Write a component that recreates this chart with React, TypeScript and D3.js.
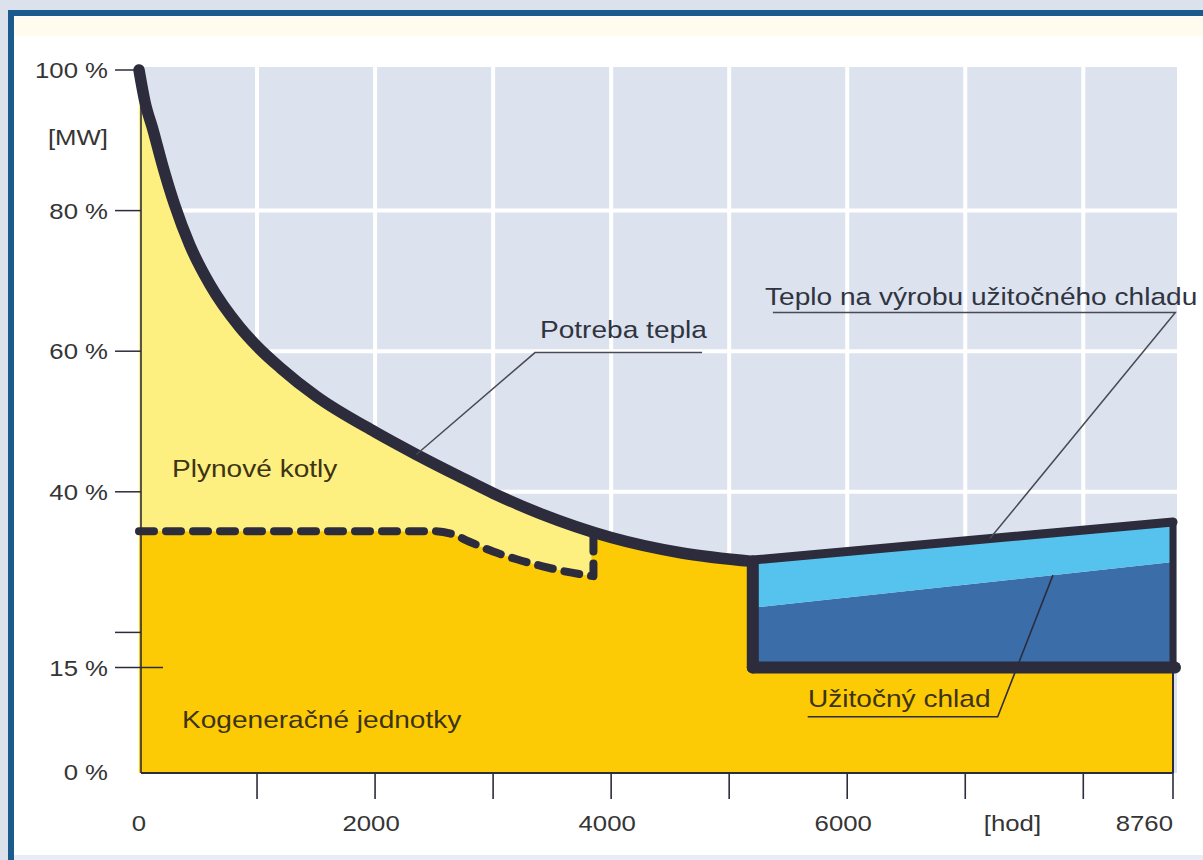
import React from 'react';
import * as d3 from 'd3';

const W = 1203;
const H = 860;
const FONT = '"Liberation Sans", Arial, Helvetica, sans-serif';
const SX = 1.17;

// Heat demand duration curve (hours, % of peak)
const demandHours = [0, 50, 120, 200, 300, 430, 600, 850, 1000, 1200, 1500, 2000, 2350, 2700, 3000, 3400, 4000, 4600, 5200];
const demandPct = [100, 95.5, 91.4, 86.4, 80.9, 75.1, 69.5, 63.5, 60.7, 57.6, 53.6, 48.5, 45.3, 42.3, 39.8, 36.9, 33.5, 31.3, 30.1];

// CHP (cogeneration) output – dashed line
const chpHours = [0, 2500, 2650, 2800, 3000, 3200, 3420, 3630, 3850];
const chpPct = [34.4, 34.4, 34.0, 32.9, 31.5, 30.4, 29.4, 28.6, 28.0];
const chpStepTop = 34.0;

// Cooling period
const coolHours = [5200, 8760];
const coolTotalPct = [30.3, 35.7];
const coolUsefulPct = [23.5, 30.0];
const coolBasePct = 15;

// Axes
const yTickValues = [100, 80, 60, 40, 20, 15];
const yTickLabels = ['100 %', '80 %', '60 %', '40 %', '', '15 %'];
const yZeroLabel = '0 %';
const yUnit = '[MW]';
const xTickValues = [1000, 2000, 3000, 4000, 5000, 6000, 7000, 8000, 8760];
const xLabelValues = [0, 2000, 4000, 6000];
const xLabelTexts = ['0', '2000', '4000', '6000'];
const xEndLabel = '8760';
const xUnit = '[hod]';
const gridPct = [80, 60, 40];
const gridHours = [1000, 2000, 3000, 4000, 5000, 6000, 7000, 8000];

const C = {
  bg: '#dbe2ec',
  frame: '#1a5a8c',
  plot: '#dde2ef',
  light: '#fef080',
  gold: '#fdcb05',
  ltBlue: '#56c2ee',
  dkBlue: '#3b6ea9',
  line: '#2c2c3c',
  text: '#353535',
  textIn: '#3d3415',
  leader: '#4a4a55',
};

type P = [number, number];

function Label(props: { x: number; y: number; text: string; size: number; anchor?: string; fill?: string }) {
  const { x, y, text, size, anchor = 'start', fill = C.text } = props;
  return (
    <g transform={`translate(${x},${y}) scale(${SX},1)`}>
      <text x={0} y={0} fontSize={size} textAnchor={anchor as any} fill={fill} fontFamily={FONT}>
        {text}
      </text>
    </g>
  );
}

export default function App() {
  const x = d3.scaleLinear().domain([0, 8760]).range([139, 1173]);
  const y = d3.scaleLinear().domain([0, 100]).range([773, 70]);

  const demand: P[] = demandHours.map((h, i) => [h, demandPct[i]]);
  const chp: P[] = chpHours.map((h, i) => [h, chpPct[i]]);

  const curve = d3.curveMonotoneX;
  const area = d3
    .area<P>()
    .x((d) => x(d[0]))
    .y0(y(0))
    .y1((d) => y(d[1]))
    .curve(curve);
  const line = d3
    .line<P>()
    .x((d) => x(d[0]))
    .y((d) => y(d[1]))
    .curve(curve);
  const lin = d3
    .line<P>()
    .x((d) => x(d[0]))
    .y((d) => y(d[1]));

  const chpPath = (line(chp) || '') + `L${x(3850)},${y(chpStepTop)}`;

  const darkPoly: P[] = [
    [coolHours[0], coolBasePct],
    [coolHours[0], coolUsefulPct[0]],
    [coolHours[1], coolUsefulPct[1]],
    [coolHours[1], coolBasePct],
  ];
  const lightPoly: P[] = [
    [coolHours[0], coolUsefulPct[0]],
    [coolHours[0], coolTotalPct[0]],
    [coolHours[1], coolTotalPct[1]],
    [coolHours[1], coolUsefulPct[1]],
  ];

  const x0 = x(0);
  const xEnd = x(8760);
  const y0 = y(0);

  // annotation anchors (data coords)
  const potrebaHit: P = [2350, 45.3];
  const potrebaUL: P[] = [[3355, 59.8], [4770, 59.8]];
  const teploHit: P = [7209, 30.3 + ((35.7 - 30.3) * (7209 - 5200)) / 3560];
  const teploUL: P[] = [[5370, 65.5], [8780, 65.5]];
  const chladHit: P = [7743, 23.5 + ((30 - 23.5) * (7743 - 5200)) / 3560];
  const chladUL: P[] = [[5665, 8.0], [7275, 8.0]];

  return (
    <svg
      width={W}
      height={H}
      style={{ position: 'absolute', left: 0, top: 0, display: 'block' }}
      xmlns="http://www.w3.org/2000/svg"
    >
      <defs>
        <clipPath id="afterChp">
          <rect x={x(3850) - 2} y={0} width={W} height={H} />
        </clipPath>
      </defs>
      {/* frame */}
      <rect x={0} y={0} width={W} height={H} fill={C.bg} />
      <rect x={8} y={10} width={W} height={H} fill={C.frame} />
      <rect x={14} y={16} width={W} height={839} fill="#ffffff" />
      <rect x={14} y={17} width={W} height={19} fill="#fffbee" />
      <rect x={14} y={855} width={W} height={5} fill="#e6edf4" />

      {/* plot background + grid */}
      <rect x={x0 + 3} y={y(100) - 3} width={xEnd + 4 - x0 - 3} height={y0 - y(100) + 3} fill={C.plot} />
      {gridHours.map((h) => (
        <line key={'gv' + h} x1={x(h)} x2={x(h)} y1={y(100) - 3} y2={y0} stroke="#ffffff" strokeWidth={4} />
      ))}
      {gridPct.map((p) => (
        <line key={'gh' + p} x1={x0} x2={xEnd + 4} y1={y(p)} y2={y(p)} stroke="#ffffff" strokeWidth={4} />
      ))}

      {/* fills */}
      <path d={area(demand) || ''} fill={C.light} />
      <path d={area(chp) || ''} fill={C.gold} />
      <path d={area(demand) || ''} fill={C.gold} clipPath="url(#afterChp)" />
      <rect x={x(5200) - 3} y={y(coolBasePct)} width={xEnd - x(5200) + 3} height={y0 - y(coolBasePct)} fill={C.gold} />
      <path d={(lin(darkPoly) || '') + 'Z'} fill={C.dkBlue} />
      <path d={(lin(lightPoly) || '') + 'Z'} fill={C.ltBlue} />

      {/* axes */}
      <line x1={x0 + 2} x2={x0 + 2} y1={y(97)} y2={y0} stroke={C.line} strokeWidth={1.6} />
      <line x1={x0 + 2} x2={xEnd} y1={y0} y2={y0} stroke={C.line} strokeWidth={2} />
      <line x1={xEnd} x2={xEnd} y1={y(coolBasePct)} y2={y0} stroke={C.line} strokeWidth={2} />
      {yTickValues.map((v) => (
        <line
          key={'yt' + v}
          x1={115}
          x2={v === 15 ? x0 + 24 : x0 + 2}
          y1={y(v)}
          y2={y(v)}
          stroke={C.line}
          strokeWidth={1.5}
        />
      ))}
      {xTickValues.map((v) => (
        <line key={'xt' + v} x1={x(v)} x2={x(v)} y1={y0} y2={y0 + 26} stroke={C.line} strokeWidth={1.6} />
      ))}

      {/* dashed CHP line */}
      <path
        d={chpPath}
        fill="none"
        stroke={C.line}
        strokeWidth={8}
        strokeDasharray="15 12"
        strokeLinecap="round"
        strokeLinejoin="round"
      />

      {/* cooling outline */}
      <path d={lin([[coolHours[0], coolTotalPct[0]], [coolHours[1], coolTotalPct[1]]]) || ''} stroke={C.line} strokeWidth={9} strokeLinecap="round" fill="none" />
      <line x1={xEnd} x2={xEnd} y1={y(coolTotalPct[1])} y2={y(coolBasePct)} stroke={C.line} strokeWidth={7} />
      <line x1={x(5200)} x2={xEnd + 2} y1={y(coolBasePct)} y2={y(coolBasePct)} stroke={C.line} strokeWidth={12} strokeLinecap="round" />
      <line x1={x(5200)} x2={x(5200)} y1={y(demandPct[demandPct.length - 1])} y2={y(coolBasePct)} stroke={C.line} strokeWidth={12} strokeLinecap="round" />

      {/* demand curve */}
      <path d={line(demand) || ''} fill="none" stroke={C.line} strokeWidth={11.5} strokeLinecap="round" strokeLinejoin="round" />

      {/* annotations */}
      <path d={lin([potrebaHit, ...potrebaUL]) || ''} fill="none" stroke={C.leader} strokeWidth={1.5} />
      <path d={lin([teploUL[0], teploUL[1], teploHit]) || ''} fill="none" stroke={C.leader} strokeWidth={1.5} />
      <path d={lin([chladUL[0], chladUL[1], chladHit]) || ''} fill="none" stroke={C.line} strokeWidth={1.6} />

      <Label x={x(3397)} y={338} text="Potreba tepla" size={24} fill="#2f3440" />
      <Label x={765} y={305} text="Teplo na výrobu užitočného chladu" size={24} fill="#2f3440" />
      <Label x={808} y={707} text="Užitočný chlad" size={24} fill={C.textIn} />
      <Label x={172} y={477} text="Plynové kotly" size={24} fill={C.textIn} />
      <Label x={182} y={728} text="Kogeneračné jednotky" size={24} fill={C.textIn} />

      {/* y labels */}
      {yTickValues.map((v, i) =>
        yTickLabels[i] ? (
          <Label key={'yl' + v} x={108} y={y(v) + 8} text={yTickLabels[i]} size={22} anchor="end" />
        ) : null
      )}
      <Label x={108} y={y(0) + 7} text={yZeroLabel} size={22} anchor="end" />
      <Label x={108} y={y(90.5) + 8} text={yUnit} size={22} anchor="end" />

      {/* x labels */}
      {xLabelValues.map((v, i) => (
        <Label key={'xl' + v} x={x(v) - (v === 0 ? 0 : 4)} y={831} text={xLabelTexts[i]} size={22} anchor="middle" />
      ))}
      <Label x={x(7400)} y={831} text={xUnit} size={22} anchor="middle" />
      <Label x={xEnd} y={831} text={xEndLabel} size={22} anchor="end" />
    </svg>
  );
}
